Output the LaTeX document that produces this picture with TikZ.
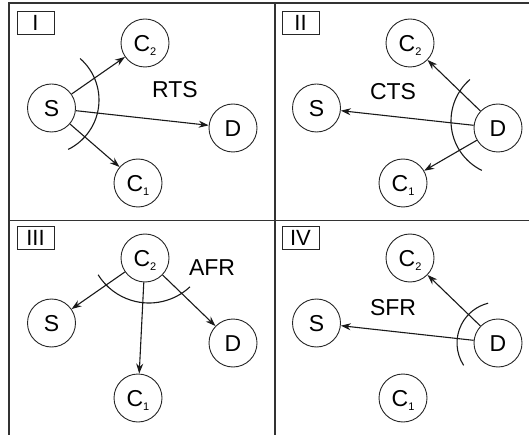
\documentclass[tikz,border=0pt]{standalone}
\usepackage{fontspec}
\setmainfont{Liberation Sans}
\usetikzlibrary{arrows.meta}
\newcommand{\lowidx}[1]{\raisebox{-4pt}{\fontsize{11}{11}\selectfont #1}}
\begin{document}
\begin{tikzpicture}[x=1pt,y=-1pt,
  frame/.style={line width=1.6pt, draw=black!80},
  nd/.style={circle, draw=black!85, line width=0.9pt, minimum size=48pt, inner sep=0pt,
    text height=16.4pt, text depth=0pt, font=\fontsize{23}{23}\selectfont},
  tag/.style={draw=black!85, line width=0.8pt, minimum width=37pt, minimum height=23pt,
    inner sep=0pt, text height=16pt, text depth=0pt, font=\fontsize{22}{22}\selectfont},
  lbl/.style={font=\fontsize{23}{23}\selectfont, inner sep=0pt},
  msg/.style={draw=black!90, line width=1.1pt, -{Stealth[length=10pt,width=7pt]}},
  rangearc/.style={draw=black!90, line width=1.1pt}]
\useasboundingbox (0,0) rectangle (529,435);

% panel frame (open at the right and bottom)
\draw[frame] (9,435) -- (9,3) -- (529,3);
\draw[frame] (275,3) -- (275,435);
\draw[frame] (9,220.5) -- (529,220.5);

% ---------- I : RTS ----------
\node[tag] (t1) at (35.5,22.5) {I};
\node[nd] (s1)  at (51.5,108)  {S};
\node[nd] (c21) at (145,43)  {C\lowidx{2}};
\node[nd] (d1)  at (233,128) {D};
\node[nd] (c11) at (138,183) {C\lowidx{1}};
\node[lbl] (m1) at (175,90) {RTS};
\draw[msg] (s1) -- (c21);
\draw[msg] (s1) -- (d1);
\draw[msg] (s1) -- (c11);
\draw[rangearc] ([shift={(-49:55)}]44,100) arc[start angle=-49, end angle=64, radius=55];

% ---------- II : CTS ----------
\node[tag] (t2) at (300.5,22.5) {II};
\node[nd] (s2)  at (316.5,108) {S};
\node[nd] (c22) at (410,43)  {C\lowidx{2}};
\node[nd] (d2)  at (498,128) {D};
\node[nd] (c12) at (403,183) {C\lowidx{1}};
\node[lbl] (m2) at (393,92) {CTS};
\draw[msg] (d2) -- (c22);
\draw[msg] (d2) -- (s2);
\draw[msg] (d2) -- (c12);
\draw[rangearc] ([shift={(116:55)}]506,121) arc[start angle=116, end angle=229, radius=55];

% ---------- III : AFR ----------
\node[tag] (t3) at (35.5,238) {III};
\node[nd] (s3)  at (51.5,323)  {S};
\node[nd] (c23) at (145,258) {C\lowidx{2}};
\node[nd] (d3)  at (233,343) {D};
\node[nd] (c13) at (138,398) {C\lowidx{1}};
\node[lbl] (m3) at (212,268) {AFR};
\draw[msg] (c23) -- (s3);
\draw[msg] (c23) -- (c13);
\draw[msg] (c23) -- (d3);
\draw[rangearc] ([shift={(47:60)}]149,243) arc[start angle=47, end angle=148, radius=60];

% ---------- IV : SFR ----------
\node[tag] (t4) at (300.5,238) {IV};
\node[nd] (s4)  at (316.5,323) {S};
\node[nd] (c24) at (410,258) {C\lowidx{2}};
\node[nd] (d4)  at (498,343) {D};
\node[nd] (c14) at (403,398) {C\lowidx{1}};
\node[lbl] (m4) at (393,308) {SFR};
\draw[msg] (d4) -- (c24);
\draw[msg] (d4) -- (s4);
\draw[rangearc] ([shift={(147:41)}]498,343) arc[start angle=147, end angle=256, radius=41];
\end{tikzpicture}
\end{document}
